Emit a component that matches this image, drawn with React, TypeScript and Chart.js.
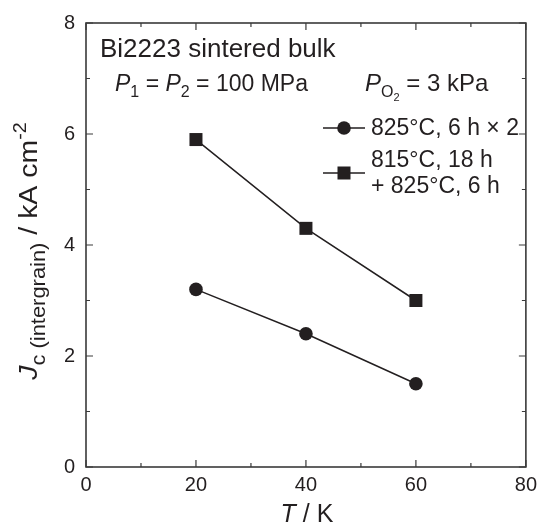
import React, { useEffect, useRef } from "react";
import { Chart, registerables } from "chart.js";

Chart.register(...registerables);

const temperatures = [20, 40, 60];
const jcSeriesA = [3.2, 2.4, 1.5];
const jcSeriesB = [5.9, 4.3, 3.0];
const xMajorTicks = [0, 20, 40, 60, 80];
const xMinorTicks = [10, 30, 50, 70];
const yMajorTicks = [0, 2, 4, 6, 8];
const yMinorTicks = [1, 3, 5, 7];
const legendA = "825°C, 6 h × 2";
const legendB1 = "815°C, 18 h";
const legendB2 = "+ 825°C, 6 h";

const FONT = '"Liberation Sans", Arial, Helvetica, sans-serif';
const INK = "#231f20";

type Run = { t: string; size: number; italic?: boolean; dy?: number };

function drawRuns(ctx: CanvasRenderingContext2D, runs: Run[], x: number, y: number) {
  let cx = x;
  for (const r of runs) {
    ctx.font = `${r.italic ? "italic " : ""}${r.size}px ${FONT}`;
    ctx.fillText(r.t, cx, y + (r.dy || 0));
    cx += ctx.measureText(r.t).width;
  }
  return cx - x;
}
function runsWidth(ctx: CanvasRenderingContext2D, runs: Run[]) {
  let w = 0;
  for (const r of runs) {
    ctx.font = `${r.italic ? "italic " : ""}${r.size}px ${FONT}`;
    w += ctx.measureText(r.t).width;
  }
  return w;
}

const decorPlugin = {
  id: "decor",
  afterDraw(chart: any) {
    const ctx: CanvasRenderingContext2D = chart.ctx;
    const { left, right, top, bottom } = chart.chartArea;
    const xs = chart.scales.x;
    const ys = chart.scales.y;
    ctx.save();
    ctx.strokeStyle = "#3a3a3a";
    ctx.lineWidth = 1.6;
    ctx.strokeRect(left, top, right - left, bottom - top);
    ctx.lineWidth = 1.2;
    const drawX = (v: number, len: number) => {
      const px = xs.getPixelForValue(v);
      ctx.beginPath();
      ctx.moveTo(px, bottom);
      ctx.lineTo(px, bottom - len);
      ctx.moveTo(px, top);
      ctx.lineTo(px, top + len);
      ctx.stroke();
    };
    const drawY = (v: number, len: number) => {
      const py = ys.getPixelForValue(v);
      ctx.beginPath();
      ctx.moveTo(left, py);
      ctx.lineTo(left + len, py);
      ctx.moveTo(right, py);
      ctx.lineTo(right - len, py);
      ctx.stroke();
    };
    xMajorTicks.forEach((v) => drawX(v, 7));
    xMinorTicks.forEach((v) => drawX(v, 4));
    yMajorTicks.forEach((v) => drawY(v, 7));
    yMinorTicks.forEach((v) => drawY(v, 4));

    ctx.fillStyle = INK;
    ctx.textBaseline = "alphabetic";
    ctx.textAlign = "left";

    // Title texts
    drawRuns(ctx, [{ t: "Bi2223 sintered bulk", size: 26 }], left + 14, top + 34);
    drawRuns(
      ctx,
      [
        { t: "P", size: 23, italic: true },
        { t: "1", size: 16, dy: 6 },
        { t: " = ", size: 23 },
        { t: "P", size: 23, italic: true },
        { t: "2", size: 16, dy: 6 },
        { t: " = 100 MPa", size: 23 },
      ],
      left + 29,
      top + 68
    );
    drawRuns(
      ctx,
      [
        { t: "P", size: 24, italic: true },
        { t: "O", size: 16, dy: 6 },
        { t: "2", size: 11, dy: 10 },
        { t: " = 3 kPa", size: 24 },
      ],
      left + 279,
      top + 68
    );

    // legend
    const lx0 = left + 237;
    const lx1 = left + 279;
    const lcx = (lx0 + lx1) / 2;
    const ly1 = top + 105;
    const ly2 = top + 150;
    ctx.strokeStyle = INK;
    ctx.lineWidth = 1.5;
    ctx.beginPath();
    ctx.moveTo(lx0, ly1);
    ctx.lineTo(lx1, ly1);
    ctx.moveTo(lx0, ly2);
    ctx.lineTo(lx1, ly2);
    ctx.stroke();
    ctx.beginPath();
    ctx.arc(lcx, ly1, 6.8, 0, Math.PI * 2);
    ctx.fill();
    ctx.fillRect(lcx - 6.5, ly2 - 6.5, 13, 13);
    ctx.textBaseline = "middle";
    drawRuns(ctx, [{ t: legendA, size: 23 }], lx1 + 6, ly1 + 1);
    ctx.textBaseline = "alphabetic";
    drawRuns(ctx, [{ t: legendB1, size: 23 }], lx1 + 6, top + 144);
    drawRuns(ctx, [{ t: legendB2, size: 23 }], lx1 + 6, top + 170);

    // x title
    const xr: Run[] = [
      { t: "T", size: 25, italic: true },
      { t: " / K", size: 25 },
    ];
    const xw = runsWidth(ctx, xr);
    drawRuns(ctx, xr, (left + right) / 2 - xw / 2 + 1, 522);

    // y title
    const yr: Run[] = [
      { t: "J", size: 26, italic: true },
      { t: "c (intergrain)", size: 20, dy: 8 },
      { t: " / kA cm", size: 26 },
      { t: "-2", size: 18, dy: -11 },
    ];
    const yw = runsWidth(ctx, yr);
    ctx.save();
    ctx.translate(37, 251);
    ctx.rotate(-Math.PI / 2);
    ctx.scale(1.095, 1);
    drawRuns(ctx, yr, -yw / 2, 0);
    ctx.restore();

    ctx.restore();
  },
};

export default function App() {
  const ref = useRef<HTMLCanvasElement | null>(null);
  useEffect(() => {
    if (!ref.current) return;
    const chart = new Chart(ref.current, {
      type: "scatter",
      data: {
        datasets: [
          {
            label: legendA,
            data: temperatures.map((t, i) => ({ x: t, y: jcSeriesA[i] })),
            showLine: true,
            borderColor: INK,
            backgroundColor: INK,
            borderWidth: 1.5,
            pointStyle: "circle",
            pointRadius: 6.8,
            pointBorderWidth: 0,
          },
          {
            label: legendB1 + " " + legendB2,
            data: temperatures.map((t, i) => ({ x: t, y: jcSeriesB[i] })),
            showLine: true,
            borderColor: INK,
            backgroundColor: INK,
            borderWidth: 1.5,
            pointStyle: "rect",
            pointRadius: 9.2,
            pointBorderWidth: 0,
          },
        ],
      },
      options: {
        animation: false,
        responsive: false,
        maintainAspectRatio: false,
        layout: { padding: { left: 0, right: 12, top: 23, bottom: 0 } },
        plugins: { legend: { display: false }, tooltip: { enabled: false } },
        scales: {
          x: {
            type: "linear",
            min: 0,
            max: 80,
            border: { display: false },
            grid: { display: false, drawTicks: false },
            ticks: {
              stepSize: 20,
              padding: 6,
              color: INK,
              font: { family: FONT, size: 20 },
            },
            afterFit: (s: any) => {
              s.height = 57;
            },
          },
          y: {
            type: "linear",
            min: 0,
            max: 8,
            border: { display: false },
            grid: { display: false, drawTicks: false },
            ticks: {
              stepSize: 2,
              padding: 11,
              color: INK,
              font: { family: FONT, size: 20 },
            },
            afterFit: (s: any) => {
              s.width = 86;
            },
          },
        },
      },
      plugins: [decorPlugin],
    } as any);
    return () => chart.destroy();
  }, []);
  return (
    <div style={{ position: "fixed", left: 0, top: 0, width: 543, height: 524, background: "#fff" }}>
      <canvas ref={ref} width={543} height={524} style={{ width: 543, height: 524 }} />
    </div>
  );
}
